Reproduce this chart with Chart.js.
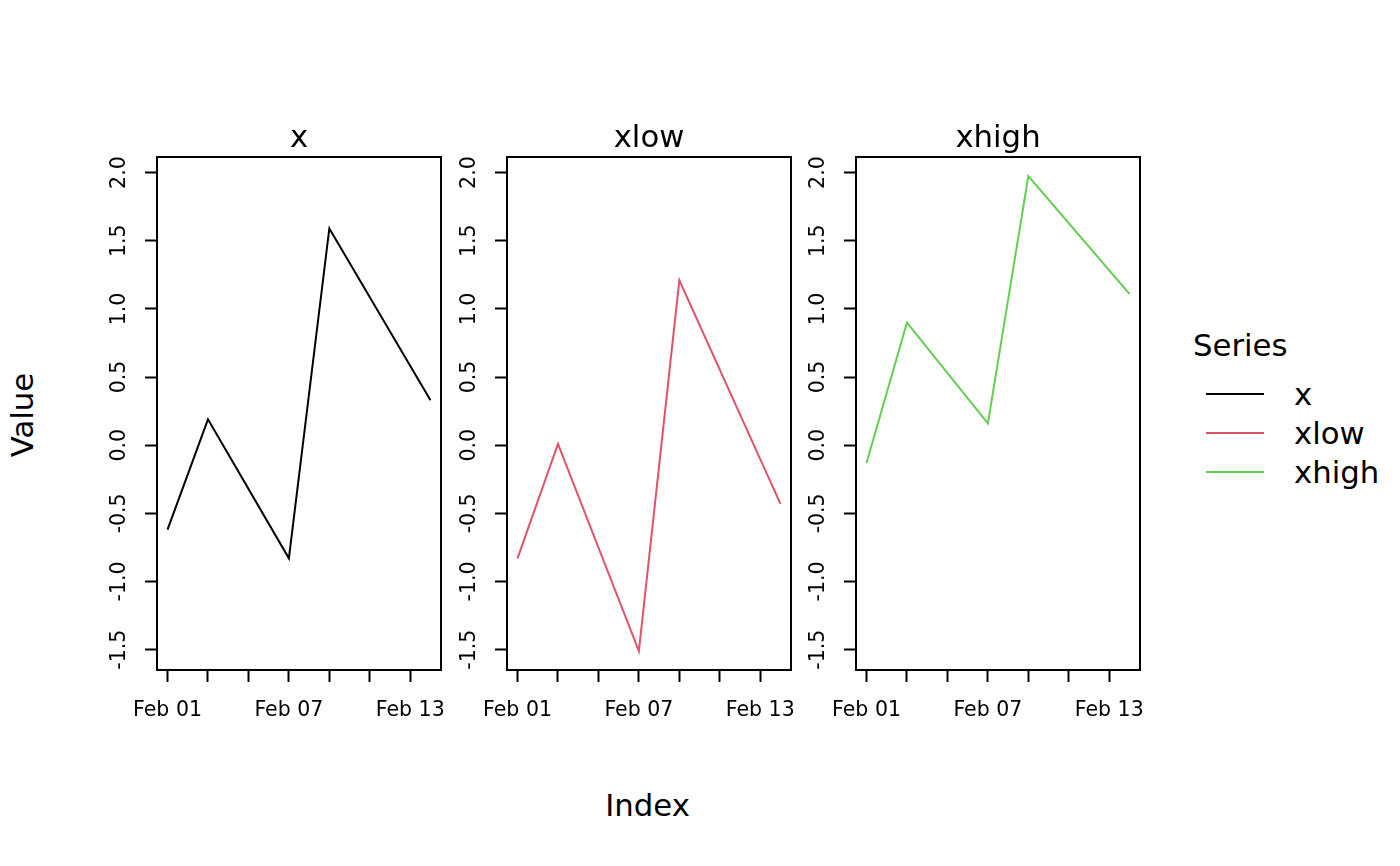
<!DOCTYPE html>
<html><head><meta charset="utf-8">
<script src="https://cdn.jsdelivr.net/npm/chart.js@4"></script>
<style>
html,body{margin:0;padding:0;background:#fff;}
body{width:1400px;height:866px;overflow:hidden;position:relative;font-family:"DejaVu Sans",sans-serif;}
canvas{position:absolute;}
.t{position:absolute;white-space:nowrap;color:#000;line-height:1;}
.sw{position:absolute;height:2px;}
</style></head><body>
<script>
// ---- data ----
const dayValues = [1, 3, 7, 9, 14];            // day of February
const seriesNames = ['x', 'xlow', 'xhigh'];
const xValues = [-0.62, 0.19, -0.83, 1.59, 0.33];
const xlowValues = [-0.83, 0.01, -1.51, 1.21, -0.43];
const xhighValues = [-0.13, 0.90, 0.16, 1.975, 1.11];
const seriesColors = ['#000000', '#DF536B', '#61D04F'];
const xTickValues = [1, 3, 5, 7, 9, 11, 13];
const xTickLabels = {1: 'Feb 01', 7: 'Feb 07', 13: 'Feb 13'};
const yTickValues = [-1.5, -1.0, -0.5, 0.0, 0.5, 1.0, 1.5, 2.0];
const legendTitle = 'Series';
const xAxisTitle = 'Index';
const yAxisTitle = 'Value';

const seriesValues = [xValues, xlowValues, xhighValues];

// axis ranges (R style 4% extension)
const allVals = [].concat(xValues, xlowValues, xhighValues);
const yLo = Math.min(...allVals), yHi = Math.max(...allVals);
const yMin = yLo - 0.04 * (yHi - yLo), yMax = yHi + 0.04 * (yHi - yLo);
const dLo = Math.min(...dayValues), dHi = Math.max(...dayValues);
const xMin = dLo - 0.04 * (dHi - dLo), xMax = dHi + 0.04 * (dHi - dLo);

// ---- layout ----
const FONT = '"DejaVu Sans", sans-serif';
const TICK_SIZE = 20.5, BIG_SIZE = 30.75;
const panelLefts = [157, 507, 856];
const PLOT_TOP = 157, PLOT_W = 284, PLOT_H = 513;
const AXIS_W = 57, TOP_PAD = 57, PAD_R = 4, BOTTOM_H = 70;

const framePlugin = {
  id: 'frame',
  afterDraw(chart) {
    const {ctx, chartArea: a} = chart;
    ctx.save();
    ctx.strokeStyle = '#000';
    ctx.lineWidth = 2;
    ctx.strokeRect(a.left, a.top, a.right - a.left, a.bottom - a.top);
    ctx.fillStyle = '#000';
    ctx.font = BIG_SIZE + 'px ' + FONT;
    ctx.textAlign = 'center';
    ctx.textBaseline = 'alphabetic';
    ctx.fillText(chart.options.panelTitle, (a.left + a.right) / 2, a.top - 10);
    ctx.restore();
  }
};

function zeroPad(s) { s.paddingLeft = 0; s.paddingRight = 0; s.paddingTop = 0; s.paddingBottom = 0; }

seriesNames.forEach((name, i) => {
  const cv = document.createElement('canvas');
  const w = AXIS_W + PLOT_W + PAD_R, h = TOP_PAD + PLOT_H + BOTTOM_H;
  cv.width = w; cv.height = h;
  cv.style.left = (panelLefts[i] - AXIS_W) + 'px';
  cv.style.top = (PLOT_TOP - TOP_PAD) + 'px';
  cv.style.width = w + 'px'; cv.style.height = h + 'px';
  document.body.appendChild(cv);
  new Chart(cv, {
    type: 'line',
    data: {
      datasets: [{
        label: name,
        data: dayValues.map((d, k) => ({x: d, y: seriesValues[i][k]})),
        borderColor: seriesColors[i],
        borderWidth: 2,
        pointRadius: 0,
        tension: 0,
        fill: false
      }]
    },
    options: {
      panelTitle: name,
      responsive: false,
      animation: false,
      layout: {padding: {top: TOP_PAD, right: PAD_R, left: 0, bottom: 0}},
      plugins: {legend: {display: false}, tooltip: {enabled: false}, title: {display: false}},
      scales: {
        x: {
          type: 'linear', min: xMin, max: xMax,
          afterFit: s => { s.height = BOTTOM_H; zeroPad(s); },
          afterBuildTicks: s => { s.ticks = xTickValues.map(v => ({value: v})); },
          grid: {display: true, drawOnChartArea: false, drawTicks: true, tickLength: 12, tickWidth: 2, tickColor: '#000'},
          border: {display: false},
          ticks: {autoSkip: false, maxRotation: 0, minRotation: 0, padding: 16, color: '#000',
                  font: {family: FONT, size: TICK_SIZE},
                  callback: v => xTickLabels[v] || ''}
        },
        y: {
          type: 'linear', min: yMin, max: yMax,
          afterFit: s => { s.width = AXIS_W; zeroPad(s); },
          afterBuildTicks: s => { s.ticks = yTickValues.map(v => ({value: v})); },
          grid: {display: true, drawOnChartArea: false, drawTicks: true, tickLength: 12, tickWidth: 2, tickColor: '#000'},
          border: {display: false},
          ticks: {autoSkip: false, minRotation: 90, maxRotation: 90, crossAlign: 'center', padding: 5.5, color: '#000',
                  font: {family: FONT, size: TICK_SIZE},
                  callback: v => v.toFixed(1)}
        }
      }
    },
    plugins: [framePlugin]
  });
});

// ---- HTML text ----
function place(text, x, baseline, size, align) {
  const d = document.createElement('div');
  d.className = 't';
  d.textContent = text;
  d.style.fontSize = size + 'px';
  d.style.top = (baseline - 0.846 * size) + 'px';
  d.style.left = x + 'px';
  if (align === 'center') d.style.transform = 'translateX(-50%)';
  document.body.appendChild(d);
  return d;
}
place(xAxisTitle, 647.5, 816, BIG_SIZE, 'center');
const v = document.createElement('div');
v.className = 't';
v.textContent = yAxisTitle;
v.style.fontSize = BIG_SIZE + 'px';
v.style.left = '22px'; v.style.top = '415px';
v.style.transform = 'translate(-50%,-50%) rotate(-90deg)';
document.body.appendChild(v);

place(legendTitle, 1193, 356, BIG_SIZE, 'left');
const legendLineY = [394, 433, 472];
seriesNames.forEach((name, i) => {
  const s = document.createElement('div');
  s.className = 'sw';
  s.style.left = '1206px'; s.style.width = '58px';
  s.style.top = (legendLineY[i] - 1) + 'px';
  s.style.background = seriesColors[i];
  document.body.appendChild(s);
  place(name, 1294, legendLineY[i] + 11.5, BIG_SIZE, 'left');
});
</script>
</body></html>
